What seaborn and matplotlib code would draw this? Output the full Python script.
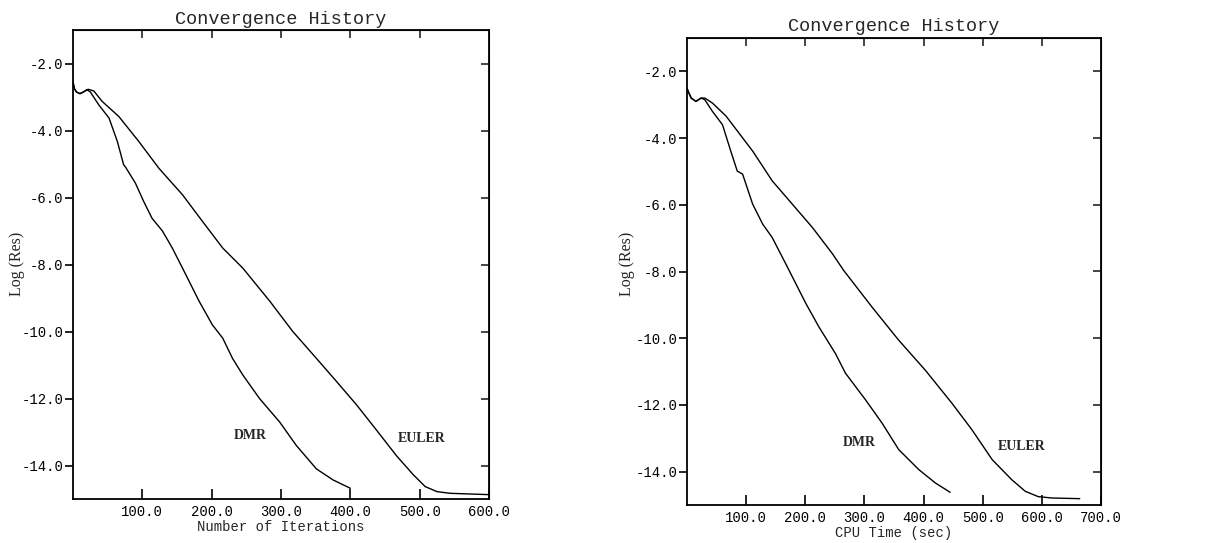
import matplotlib
matplotlib.use("Agg")
import matplotlib.pyplot as plt
import seaborn as sns
import pandas as pd

# ---- data ----
iter_dmr = [0, 2, 5, 10, 15, 20, 25, 37, 52, 64, 73, 76, 90, 102, 114, 129, 143, 158, 182,
            201, 216, 230, 245, 269, 298, 322, 351, 375, 400]
res_iter_dmr = [-2.55, -2.75, -2.85, -2.9, -2.85, -2.78, -2.85, -3.23, -3.63, -4.33, -5.02, -5.1,
                -5.57, -6.12, -6.62, -7.0, -7.5, -8.11, -9.1, -9.8, -10.2, -10.8, -11.3, -12.0,
                -12.7, -13.4, -14.1, -14.43, -14.68]
iter_euler = [0, 2, 5, 10, 15, 22, 30, 42, 66, 95, 124, 158, 187, 216, 245, 284, 317, 351, 380,
              409, 438, 467, 491, 508, 525, 544, 600]
res_iter_euler = [-2.55, -2.75, -2.85, -2.9, -2.85, -2.77, -2.82, -3.13, -3.58, -4.33, -5.13,
                  -5.92, -6.72, -7.51, -8.11, -9.1, -10.0, -10.8, -11.49, -12.19, -12.95, -13.72,
                  -14.28, -14.63, -14.78, -14.83, -14.87]

cpu_dmr = [0, 2, 7, 15, 24, 30, 43, 60, 74, 85, 94, 111, 128, 144, 167, 201, 223, 251, 268, 302,
           330, 358, 392, 420, 445]
res_cpu_dmr = [-2.5, -2.6, -2.8, -2.9, -2.8, -2.85, -3.2, -3.6, -4.39, -4.99, -5.08, -5.98, -6.58,
               -6.98, -7.77, -8.96, -9.66, -10.46, -11.05, -11.85, -12.55, -13.34, -13.94,
               -14.34, -14.62]
cpu_euler = [0, 2, 7, 15, 24, 30, 43, 66, 111, 144, 178, 212, 246, 265, 313, 358, 403, 448, 482,
             516, 549, 572, 594, 617, 664]
res_cpu_euler = [-2.5, -2.6, -2.8, -2.9, -2.8, -2.8, -2.95, -3.34, -4.39, -5.28, -5.98, -6.68,
                 -7.47, -7.97, -9.07, -10.06, -10.96, -11.95, -12.75, -13.64, -14.24, -14.59,
                 -14.75, -14.79, -14.81]

y_ticks = [-2.0, -4.0, -6.0, -8.0, -10.0, -12.0, -14.0]
x_ticks_iter = [100.0, 200.0, 300.0, 400.0, 500.0, 600.0]
x_ticks_cpu = [100.0, 200.0, 300.0, 400.0, 500.0, 600.0, 700.0]
title = "Convergence History"
xlabel_iter = "Number of Iterations"
xlabel_cpu = "CPU Time (sec)"
ylabel = "Log (Res)"
label_dmr = "DMR"
label_euler = "EULER"

sns.set_style("ticks")
plt.rcParams["axes.unicode_minus"] = False
plt.rcParams["font.family"] = ["Liberation Mono", "DejaVu Sans"]

W, H = 1205, 543
fig = plt.figure(figsize=(W / 100, H / 100), dpi=100)


def make_panel(rect, xs_d, ys_d, xs_e, ys_e, xmax, xticks, xlabel, dmr_pos, eul_pos,
               ylab_x, title_pad):
    l, t, r, b = rect
    ax = fig.add_axes([l / W, 1 - b / H, (r - l) / W, (b - t) / H])
    df = pd.concat([
        pd.DataFrame({"x": xs_d, "y": ys_d, "case": label_dmr}),
        pd.DataFrame({"x": xs_e, "y": ys_e, "case": label_euler}),
    ])
    sns.lineplot(data=df, x="x", y="y", units="case", estimator=None, sort=False,
                 color="black", linewidth=1.0, ax=ax, legend=False)
    ax.set_xlim(0, xmax)
    ax.set_ylim(-15, -1)
    ax.set_xticks(xticks)
    ax.set_xticklabels([f"{v:.1f}" for v in xticks])
    ax.set_yticks(y_ticks)
    ax.set_yticklabels([f"{v:.1f}" for v in y_ticks])
    for s in ax.spines.values():
        s.set_visible(True)
        s.set_linewidth(1.3)
        s.set_color("black")
    ax.tick_params(axis="x", direction="in", length=7, width=1.2, labelsize=10, pad=4,
                   colors="black")
    ax.tick_params(axis="y", direction="out", length=6, width=1.2, labelsize=10, pad=1,
                   colors="black")
    sy = ax.secondary_yaxis("right")
    sy.set_yticks(y_ticks)
    sy.set_yticklabels([])
    sy.tick_params(direction="in", length=6, width=1.2)
    sx = ax.secondary_xaxis("top")
    sx.set_xticks(xticks[:-1])
    sx.set_xticklabels([])
    sx.tick_params(direction="in", length=6, width=1.2)
    ax.set_xlabel(xlabel, fontsize=10, labelpad=1)
    ax.set_ylabel("")
    fig.text(ylab_x / W, 1 - 264 / H, ylabel, rotation=90, ha="center", va="center",
             fontsize=11.5, family="Liberation Serif")
    ax.set_title(title, fontsize=13.3, pad=title_pad)
    ax.text(dmr_pos[0], dmr_pos[1], label_dmr, fontsize=10, fontweight="bold",
            family="Liberation Serif", ha="center", va="center")
    ax.text(eul_pos[0], eul_pos[1], label_euler, fontsize=10, fontweight="bold",
            family="Liberation Serif", ha="center", va="center")
    return ax


make_panel((73, 30, 489, 499), iter_dmr, res_iter_dmr, iter_euler, res_iter_euler,
           600, x_ticks_iter, xlabel_iter, (255, -13.1), (503, -13.2), 17, 4)
make_panel((687, 38, 1101, 505), cpu_dmr, res_cpu_dmr, cpu_euler, res_cpu_euler,
           700, x_ticks_cpu, xlabel_cpu, (291, -13.14), (566, -13.24), 627, 5)

fig.savefig("out.png", dpi=100)
